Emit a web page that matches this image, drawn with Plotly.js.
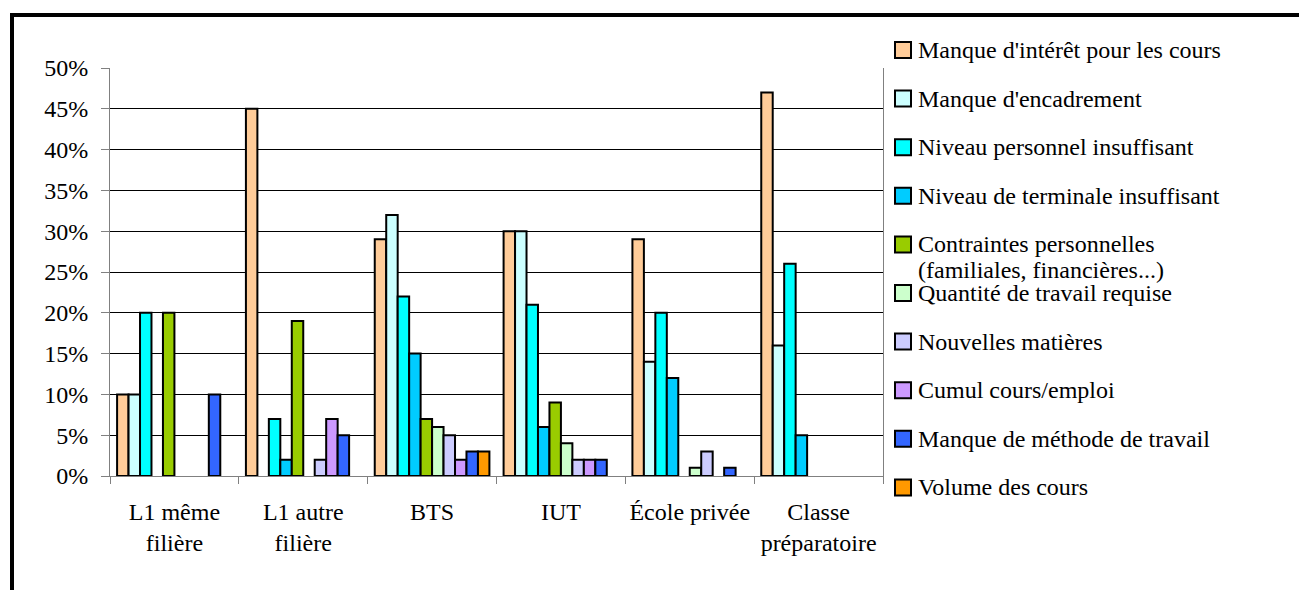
<!DOCTYPE html>
<html><head><meta charset="utf-8">
<script src="https://cdn.plot.ly/plotly-3.0.1.min.js"></script>
<style>html,body{margin:0;padding:0;background:#fff;overflow:hidden;} #chart{width:1299px;height:590px;}</style>
</head><body><div id="chart"></div>
<script>
const categories = ["L1 même<br>filière", "L1 autre<br>filière", "BTS", "IUT", "École privée", "Classe<br>préparatoire"];
const seriesNames = [
  "Manque d'intérêt pour les cours",
  "Manque d'encadrement",
  "Niveau personnel insuffisant",
  "Niveau de terminale insuffisant",
  "Contraintes personnelles<br>(familiales, financières...)",
  "Quantité de travail requise",
  "Nouvelles matières",
  "Cumul cours/emploi",
  "Manque de méthode de travail",
  "Volume des cours"
];
const seriesColors = ["#FFCC99", "#CCFFFF", "#00FFFF", "#00CCFF", "#99CC00", "#CCFFCC", "#CCCCFF", "#CC99FF", "#3366FF", "#FF9900"];
const interet      = [10, 45, 29, 30, 29, 47];
const encadrement  = [10, null, 32, 30, 14, 16];
const niveauPerso  = [20, 7, 22, 21, 20, 26];
const niveauTerm   = [null, 2, 15, 6, 12, 5];
const contraintes  = [20, 19, 7, 9, null, null];
const quantite     = [null, null, 6, 4, 1, null];
const nouvelles    = [null, 2, 5, 2, 3, null];
const cumul        = [null, 7, 2, 2, null, null];
const methode      = [10, 5, 3, 2, 1, null];
const volume       = [null, null, 3, null, null, null];
const yTicks = [0, 5, 10, 15, 20, 25, 30, 35, 40, 45, 50];

const seriesValues = [interet, encadrement, niveauPerso, niveauTerm, contraintes, quantite, nouvelles, cumul, methode, volume];

const W = 1299, H = 590;
const M = {l: 110, r: 416, t: 68, b: 114};
const PW = W - M.l - M.r, PH = H - M.t - M.b;
const px = x => (x - M.l) / PW;
const py = y => (H - M.b - y) / PH;

const FONT = 'Liberation Serif';
const FS = 24;

const traces = seriesValues.map((vals, i) => ({
  type: 'bar',
  x: categories,
  y: vals,
  name: seriesNames[i].replace('<br>', ' '),
  marker: {color: seriesColors[i], line: {color: '#000', width: 2}},
  showlegend: false,
  hoverinfo: 'skip'
}));

const shapes = [
  {type: 'line', xref: 'paper', yref: 'paper', x0: px(12), x1: px(12), y0: py(13), y1: py(600), line: {color: '#000', width: 4}},
  {type: 'line', xref: 'paper', yref: 'paper', x0: px(10), x1: px(1310), y0: py(15), y1: py(15), line: {color: '#000', width: 4}}
];
const annotations = [];
const LEG_X = 895, LEG_Y0 = 50, LEG_STEP = 48.6, SQ = 16, TXT_GAP = 6, LINE_H = 26;
seriesNames.forEach((name, i) => {
  const cy = LEG_Y0 + i * LEG_STEP;
  shapes.push({type: 'rect', xref: 'paper', yref: 'paper',
    x0: px(LEG_X), x1: px(LEG_X + SQ), y0: py(cy + SQ / 2), y1: py(cy - SQ / 2),
    fillcolor: seriesColors[i], line: {color: '#000', width: 2}});
  name.split('<br>').forEach((line, k) => {
    annotations.push({xref: 'paper', yref: 'paper', x: px(LEG_X + SQ + TXT_GAP), y: py(cy + k * LINE_H),
      xanchor: 'left', yanchor: 'middle', align: 'left', showarrow: false, text: line,
      borderpad: 0,
      font: {family: FONT, size: FS, color: '#000'}});
  });
});

const layout = {
  width: W, height: H,
  margin: M,
  paper_bgcolor: '#fff', plot_bgcolor: '#fff',
  barmode: 'group', bargap: 0.11, bargroupgap: 0,
  showlegend: false,
  font: {family: FONT, size: FS, color: '#000'},
  xaxis: {
    type: 'category', tickson: 'boundaries', ticks: 'outside', ticklen: 7, tickcolor: '#808080', tickwidth: 1,
    tickangle: 0,
    showline: true, linecolor: '#808080', linewidth: 1, mirror: false, showgrid: false,
    tickfont: {family: FONT, size: FS, color: '#000'}, ticklabelstandoff: 14, fixedrange: true
  },
  yaxis: {
    range: [0, 50], tickvals: yTicks, ticktext: yTicks.map(v => v + '%'),
    ticks: 'outside', ticklen: 8, tickcolor: '#808080', tickwidth: 1,
    showline: true, linecolor: '#808080', linewidth: 1, mirror: true,
    showgrid: true, gridcolor: '#000', gridwidth: 1, zeroline: false,
    tickfont: {family: FONT, size: FS, color: '#000'}, ticklabelstandoff: 8, fixedrange: true
  },
  shapes: shapes,
  annotations: annotations
};

function draw() {
  Plotly.newPlot('chart', traces, layout, {displayModeBar: false, staticPlot: true});
}
if (document.fonts && document.fonts.load) {
  document.fonts.load('24px "Liberation Serif"').then(draw, draw);
} else {
  draw();
}
</script>
</body></html>
